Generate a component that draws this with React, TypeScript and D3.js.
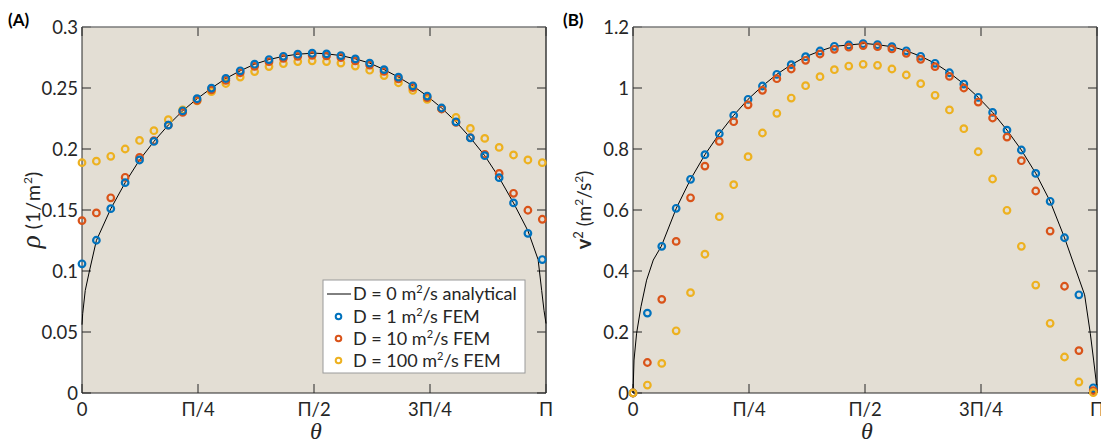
import React from 'react';
import * as d3 from 'd3';

// ---------- data ----------
const N_NODES = 33;
const NODE_STEP = 0.031; // spacing of FEM nodes, in units of π
const nodeTheta = d3.range(N_NODES).map((i) => i * NODE_STEP * Math.PI);

const xTickValues = [0, Math.PI / 4, Math.PI / 2, (3 * Math.PI) / 4, Math.PI];
const xTickLabels = ['0', 'Π/4', 'Π/2', '3Π/4', 'Π'];

// Panel A: density rho
const rhoTicks = [0, 0.05, 0.1, 0.15, 0.2, 0.25, 0.3];
const rhoTickLabels = ['0', '0.05', '0.1', '0.15', '0.2', '0.25', '0.3'];
const rhoCurveThetaPi = [0, 0.0015, 0.007, 0.016, 0.031, 0.062, 0.093, 0.124, 0.155, 0.186, 0.217, 0.248, 0.279, 0.31, 0.341, 0.372, 0.403, 0.434, 0.465, 0.5, 0.527, 0.558, 0.589, 0.62, 0.651, 0.682, 0.713, 0.744, 0.775, 0.806, 0.837, 0.868, 0.899, 0.93, 0.961, 0.983, 0.9907, 0.9957, 1.0];
const rhoCurve = [0.056, 0.065, 0.084, 0.1, 0.125, 0.151, 0.1724, 0.191, 0.2062, 0.2196, 0.2313, 0.2412, 0.2499, 0.2578, 0.2641, 0.2695, 0.2733, 0.276, 0.2777, 0.2786, 0.278, 0.2766, 0.2739, 0.2704, 0.2651, 0.2589, 0.2518, 0.2434, 0.2336, 0.2223, 0.2092, 0.1945, 0.1765, 0.1558, 0.133, 0.1094, 0.084, 0.0677, 0.057];
const rhoD1 = [0.1059, 0.1252, 0.1511, 0.1724, 0.191, 0.2062, 0.2196, 0.2313, 0.2412, 0.2499, 0.2578, 0.2641, 0.2695, 0.2733, 0.276, 0.2777, 0.2785, 0.278, 0.2766, 0.2739, 0.2704, 0.2651, 0.2589, 0.2518, 0.2434, 0.2336, 0.2223, 0.2092, 0.1945, 0.1765, 0.1558, 0.1309, 0.1094];
const rhoD10 = [0.1413, 0.1476, 0.16, 0.1768, 0.1931, 0.2068, 0.2195, 0.23, 0.2398, 0.2485, 0.2562, 0.2625, 0.2678, 0.2716, 0.2743, 0.276, 0.2768, 0.2763, 0.275, 0.2722, 0.2688, 0.2636, 0.2574, 0.2504, 0.2422, 0.2328, 0.2218, 0.2093, 0.1956, 0.18, 0.1637, 0.1498, 0.1424];
const rhoD100 = [0.1888, 0.19, 0.194, 0.2, 0.207, 0.215, 0.224, 0.232, 0.2395, 0.247, 0.2537, 0.259, 0.2635, 0.2676, 0.27, 0.2717, 0.2723, 0.2717, 0.2704, 0.268, 0.2646, 0.2602, 0.2543, 0.248, 0.2406, 0.233, 0.2259, 0.2169, 0.2087, 0.2013, 0.1951, 0.191, 0.1888];

// Panel B: squared speed v^2
const vTicks = [0, 0.2, 0.4, 0.6, 0.8, 1, 1.2];
const vTickLabels = ['0', '0.2', '0.4', '0.6', '0.8', '1', '1.2'];
const vCurveThetaPi = [0, 0.0022, 0.0078, 0.0172, 0.0293, 0.0437, 0.061, 0.0933, 0.124, 0.155, 0.186, 0.217, 0.248, 0.279, 0.31, 0.341, 0.372, 0.403, 0.434, 0.465, 0.5, 0.527, 0.558, 0.589, 0.62, 0.651, 0.682, 0.713, 0.744, 0.775, 0.806, 0.837, 0.868, 0.899, 0.93, 0.9733, 0.9855, 0.9927, 0.9978, 1.0];
const vCurve = [0, 0.108, 0.196, 0.283, 0.37, 0.436, 0.481, 0.6056, 0.7006, 0.7813, 0.85, 0.9105, 0.963, 1.0066, 1.0449, 1.0764, 1.1026, 1.1213, 1.1367, 1.141, 1.146, 1.142, 1.1354, 1.122, 1.104, 1.081, 1.05, 1.013, 0.9695, 0.92, 0.862, 0.7967, 0.72, 0.6285, 0.509, 0.322, 0.196, 0.108, 0.043, 0];
const vD1 = [0, 0.262, 0.481, 0.6056, 0.7006, 0.7813, 0.85, 0.9105, 0.963, 1.0066, 1.0449, 1.0764, 1.1026, 1.1213, 1.1367, 1.141, 1.1453, 1.142, 1.1354, 1.122, 1.104, 1.081, 1.05, 1.013, 0.9695, 0.92, 0.862, 0.7967, 0.72, 0.6285, 0.509, 0.322, 0.017];
const vD10 = [0, 0.1, 0.307, 0.497, 0.64, 0.744, 0.825, 0.8895, 0.945, 0.9924, 1.0305, 1.0623, 1.0908, 1.1115, 1.1269, 1.134, 1.139, 1.1354, 1.128, 1.1137, 1.094, 1.07, 1.038, 1.0, 0.954, 0.9016, 0.839, 0.7617, 0.6623, 0.531, 0.35, 0.139, 0.0075];
const vD100 = [0, 0.026, 0.097, 0.204, 0.329, 0.455, 0.578, 0.683, 0.7748, 0.8525, 0.917, 0.967, 1.0076, 1.037, 1.06, 1.072, 1.0777, 1.0744, 1.0623, 1.0426, 1.0141, 0.976, 0.928, 0.8666, 0.791, 0.7016, 0.599, 0.481, 0.354, 0.2285, 0.118, 0.036, 0.001];

const C_BLUE = '#0072BD';
const C_RED = '#D95319';
const C_YELLOW = '#EDB120';
const BG = '#e3ded4';
const SANS = 'Lato, "Noto Sans", sans-serif';
const SERIF = '"Liberation Serif", "DejaVu Serif", serif';

type Series = { values: number[]; color: string };

function Panel(props: {
  left: number; top: number; right: number; bottom: number;
  yMax: number; yTicks: number[]; yTickLabels: string[];
  curveThetaPi: number[]; curve: number[];
  series: Series[]; letter: string; letterX: number;
  yLabel: React.ReactNode; yLabelX: number; children?: React.ReactNode;
}) {
  const { left, top, right, bottom } = props;
  const x = d3.scaleLinear().domain([0, Math.PI]).range([left, right]);
  const y = d3.scaleLinear().domain([0, props.yMax]).range([bottom, top]);
  const line = d3.line<number>()
    .x((_, i) => x(props.curveThetaPi[i] * Math.PI))
    .y((d) => y(d));
  const tl = 9;
  return (
    <g>
      <rect x={left} y={top} width={right - left} height={bottom - top} fill={BG} />
      {/* ticks (inward, all sides) */}
      {xTickValues.map((t, i) => (
        <g key={'xt' + i}>
          <line x1={x(t)} x2={x(t)} y1={bottom} y2={bottom - tl} stroke="#262626" strokeWidth={1} />
          <line x1={x(t)} x2={x(t)} y1={top} y2={top + tl} stroke="#262626" strokeWidth={1} />
          <text x={x(t)} y={416} textAnchor="middle" fontFamily={SANS} fontSize={18.5} fill="#262626">{xTickLabels[i]}</text>
        </g>
      ))}
      {props.yTicks.map((t, i) => (
        <g key={'yt' + i}>
          <line x1={left} x2={left + tl} y1={y(t)} y2={y(t)} stroke="#262626" strokeWidth={1} />
          <line x1={right} x2={right - tl} y1={y(t)} y2={y(t)} stroke="#262626" strokeWidth={1} />
          <text x={left - 4} y={y(t)} dy="0.36em" textAnchor="end" fontFamily={SANS} fontSize={18.5} fill="#262626">{props.yTickLabels[i]}</text>
        </g>
      ))}
      {/* axes box */}
      <line x1={left} x2={right} y1={top} y2={top} stroke="#7a7a7a" strokeWidth={1.5} />
      <line x1={right} x2={right} y1={top} y2={bottom} stroke="#3a3a3a" strokeWidth={1.5} />
      <line x1={left} x2={left} y1={top} y2={bottom} stroke="#262626" strokeWidth={1} />
      <line x1={left} x2={right} y1={bottom} y2={bottom} stroke="#262626" strokeWidth={1} />
      {/* analytical curve */}
      <path d={line(props.curve) || ''} fill="none" stroke="#000" strokeWidth={1} />
      {/* FEM markers */}
      {props.series.map((s, si) => (
        <g key={'s' + si}>
          {s.values.map((v, i) => (
            <circle key={i} cx={x(nodeTheta[i])} cy={y(v)} r={3.3} fill="none" stroke={s.color} strokeWidth={2.2} />
          ))}
        </g>
      ))}
      {/* labels */}
      <text x={props.letterX} y={26} fontFamily={SANS} fontWeight="bold" fontSize={17} fill="#000">{props.letter}</text>
      <text x={(left + right) / 2 + 2} y={439} textAnchor="middle" fontFamily={SERIF} fontStyle="italic" fontSize={24} fill="#262626">θ</text>
      <g transform={`translate(${props.yLabelX},${(top + bottom) / 2}) rotate(-90)`}>{props.yLabel}</g>
      {props.children}
    </g>
  );
}

function Legend() {
  const bx = 323, by = 280, bw = 202, bh = 93;
  const rows = [294, 316.5, 338.5, 360.5];
  const labels = [
    ['D = 0 m', '/s analytical'],
    ['D = 1 m', '/s FEM'],
    ['D = 10 m', '/s FEM'],
    ['D = 100 m', '/s FEM'],
  ];
  const colors = [C_BLUE, C_RED, C_YELLOW];
  return (
    <g>
      <rect x={bx} y={by} width={bw} height={bh} fill="#fff" stroke="#9a9a9a" strokeWidth={1} />
      <line x1={327} x2={351} y1={rows[0]} y2={rows[0]} stroke="#000" strokeWidth={1} />
      {colors.map((c, i) => (
        <circle key={i} cx={338.5} cy={rows[i + 1]} r={2.8} fill="none" stroke={c} strokeWidth={2} />
      ))}
      {labels.map((l, i) => (
        <text key={i} x={353} y={rows[i]} dy="0.36em" fontFamily={SANS} fontSize={18} fill="#262626">
          {l[0]}
          <tspan dy={-7} fontSize={11}>2</tspan>
          <tspan dy={7}>{l[1]}</tspan>
        </text>
      ))}
    </g>
  );
}

export default function App() {
  return (
    <svg width={1101} height={445} style={{ position: 'absolute', left: 0, top: 0, display: 'block' }}>
      <rect width={1101} height={445} fill="#fff" />
      <Panel
        left={82} top={27} right={546} bottom={393}
        yMax={0.3} yTicks={rhoTicks} yTickLabels={rhoTickLabels}
        curveThetaPi={rhoCurveThetaPi} curve={rhoCurve}
        series={[{ values: rhoD100, color: C_YELLOW }, { values: rhoD10, color: C_RED }, { values: rhoD1, color: C_BLUE }]}
        letter="(A)" letterX={8}
        yLabelX={35}
        yLabel={
          <text textAnchor="middle" dy="0.3em" fill="#262626">
            <tspan fontFamily={SERIF} fontStyle="italic" fontSize={27}>ρ</tspan>
            <tspan fontFamily={SANS} fontSize={19.5} letterSpacing={1}> (1/m</tspan>
            <tspan fontFamily={SANS} fontSize={12} dy={-8}>2</tspan>
            <tspan fontFamily={SANS} fontSize={19.5} dy={8}>)</tspan>
          </text>
        }
      >
        <Legend />
      </Panel>
      <Panel
        left={633} top={27} right={1097} bottom={393}
        yMax={1.2} yTicks={vTicks} yTickLabels={vTickLabels}
        curveThetaPi={vCurveThetaPi} curve={vCurve}
        series={[{ values: vD1, color: C_BLUE }, { values: vD10, color: C_RED }, { values: vD100, color: C_YELLOW }]}
        letter="(B)" letterX={563}
        yLabelX={586}
        yLabel={
          <text textAnchor="middle" dy="0.3em" fill="#262626" fontFamily={SANS}>
            <tspan fontWeight="bold" fontSize={20}>v</tspan>
            <tspan fontSize={13} dy={-8}>2</tspan>
            <tspan fontSize={19} dy={8}> (m</tspan>
            <tspan fontSize={12} dy={-8}>2</tspan>
            <tspan fontSize={19} dy={8}>/s</tspan>
            <tspan fontSize={12} dy={-8}>2</tspan>
            <tspan fontSize={19} dy={8}>)</tspan>
          </text>
        }
      />
    </svg>
  );
}
